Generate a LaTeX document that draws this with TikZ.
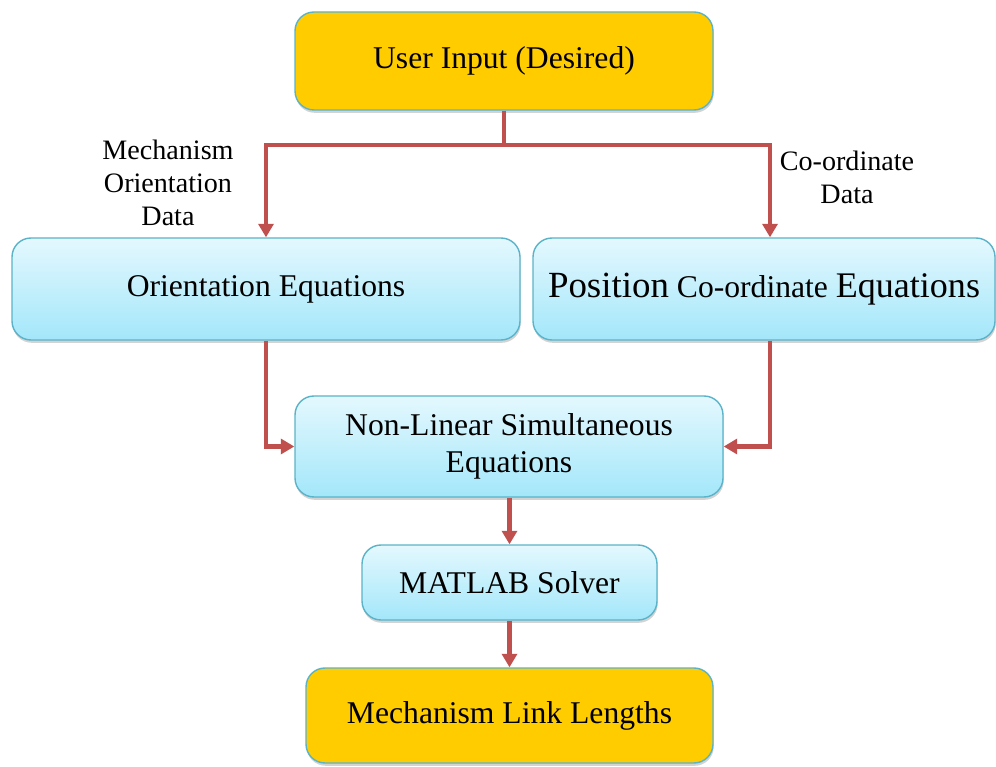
\documentclass[tikz,border=0pt]{standalone}
\usepackage{fontspec}
\setmainfont{Liberation Serif}
\usetikzlibrary{arrows.meta,positioning,calc,shadows}
\definecolor{cgold}{HTML}{FFCC00}
\definecolor{cskyt}{HTML}{E4F8FE}
\definecolor{cskyb}{HTML}{A3E7FA}
\definecolor{cedge}{HTML}{5AB3C8}
\definecolor{cflow}{HTML}{C0504D}

\begin{document}
\begin{tikzpicture}[
  font=\fontsize{18}{21.5}\selectfont,
  box/.style={draw=cedge, rounded corners=0.38cm, line width=0.8pt, align=center, inner sep=2pt,
              drop shadow={shadow xshift=0.4pt, shadow yshift=-1.6pt, opacity=0.35}},
  goal/.style={box, fill=cgold},
  eqn/.style={box, top color=cskyt, bottom color=cskyb},
  flow/.style={-{Triangle[length=0.27cm, width=0.3cm]}, line width=2.3pt, draw=cflow},
  trunk/.style={line width=2.3pt, draw=cflow},
  tag/.style={font=\fontsize{16}{18.7}\selectfont, align=center},
]
\useasboundingbox (0,0) rectangle (19.92,-15.34);

% ------------------------------------------------------------------ boxes
\node[goal, minimum width=8.36cm, minimum height=1.96cm] (input) at (10.08,-1.22) {User Input (Desired)};
\node[eqn, minimum width=10.16cm, minimum height=2.04cm] (orient) at (5.32,-5.78) {Orientation Equations};
\node[eqn, minimum width=9.24cm, minimum height=2.04cm] (posn) at (15.28,-5.78)
  {{\fontsize{21}{24}\selectfont Position} Co-ordinate {\fontsize{20.5}{24}\selectfont Equations}};
\node[eqn, minimum width=8.56cm, minimum height=2.02cm] (nonlin) at (10.18,-8.93) {Non-Linear Simultaneous\\Equations};
\node[eqn, minimum width=5.9cm, minimum height=1.5cm] (solver) at (10.19,-11.65) {MATLAB Solver};
\node[goal, minimum width=8.14cm, minimum height=1.9cm] (links) at (10.19,-14.31) {Mechanism Link Lengths};

% ------------------------------------------------------------------ data split
\coordinate (split) at (10.08,-2.9);
\coordinate (rdrop) at (15.4,-2.9);
\draw[trunk] (input.south) -- (split);
\draw[flow] (split) -| (orient.north);
\draw[flow] (split) -- (rdrop) -- (rdrop |- posn.north);
\node[tag] (otag) at (3.36,-3.66) {Mechanism\\Orientation\\Data};
\node[tag] (ctag) at (16.94,-3.54) {Co-ordinate\\Data};

% ------------------------------------------------------------------ equations to solver
\draw[flow] (orient.south) |- (nonlin.west);
\draw[flow] (posn.south -| rdrop) |- (nonlin.east);
\draw[flow] (nonlin.south -| solver.north) -- (solver.north);
\draw[flow] (solver.south) -- (links.north);
\end{tikzpicture}
\end{document}
